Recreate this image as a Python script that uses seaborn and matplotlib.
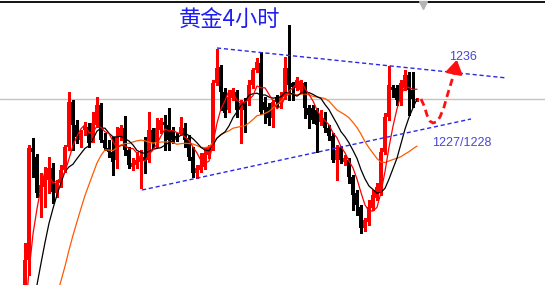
import numpy as np
import pandas as pd
import matplotlib
matplotlib.use("Agg")
import matplotlib.pyplot as plt
import seaborn as sns

# ---- data (gold, 4h candles) ----
opens = [1212.8, 1216.0, 1227.2, 1226.3, 1222.7, 1223.3, 1224.0, 1225.2, 1222.7, 1223.7,
         1225.0, 1227.3, 1231.8, 1229.5, 1228.0, 1229.0, 1229.3, 1228.0, 1229.5, 1231.5,
         1228.0, 1227.2, 1226.8, 1226.0, 1228.3, 1229.2, 1227.0, 1225.3, 1225.5, 1225.8,
         1226.3, 1226.0, 1229.0, 1227.8, 1229.0, 1229.8, 1229.5, 1229.0, 1228.4, 1228.7,
         1229.2, 1228.2, 1226.3, 1224.7, 1225.0, 1225.3, 1226.5, 1227.3, 1233.7, 1235.3,
         1232.8, 1231.0, 1232.2, 1232.8, 1231.0, 1231.7, 1232.0, 1233.5, 1235.0, 1235.7,
         1231.8, 1231.3, 1230.2, 1232.3, 1231.6, 1232.3, 1235.2, 1233.7, 1233.2, 1233.0,
         1233.7, 1231.2, 1231.2, 1231.0, 1229.8, 1230.2, 1229.2, 1228.4, 1226.0, 1227.2,
         1225.8, 1226.0, 1224.3, 1222.7, 1221.3, 1219.2, 1219.8, 1221.2, 1222.2, 1222.7,
         1226.8, 1230.3, 1233.3, 1233.2, 1232.0, 1233.2, 1234.5, 1233.0, 1232.0]
highs = [1217.7, 1227.5, 1228.2, 1226.6, 1224.7, 1225.3, 1226.3, 1225.7, 1224.0, 1225.5,
         1227.5, 1232.8, 1232.0, 1230.0, 1229.0, 1229.8, 1229.7, 1230.8, 1232.3, 1231.7,
         1228.7, 1228.0, 1228.3, 1229.3, 1229.5, 1230.4, 1227.3, 1226.2, 1226.8, 1227.0,
         1228.3, 1230.8, 1229.2, 1230.2, 1230.2, 1230.5, 1231.2, 1229.3, 1228.7, 1230.3,
         1229.7, 1228.5, 1227.3, 1225.5, 1226.7, 1227.3, 1227.5, 1234.0, 1237.1, 1235.5,
         1233.2, 1233.0, 1233.2, 1233.0, 1232.0, 1232.2, 1234.0, 1235.2, 1236.2, 1236.8,
         1232.3, 1231.7, 1232.0, 1232.5, 1232.8, 1236.3, 1239.5, 1233.8, 1234.3, 1234.0,
         1233.8, 1231.5, 1231.5, 1231.2, 1231.0, 1230.8, 1229.5, 1228.7, 1227.5, 1227.4,
         1226.5, 1226.2, 1224.5, 1223.0, 1221.5, 1220.2, 1222.0, 1223.0, 1223.7, 1227.2,
         1230.7, 1235.4, 1233.5, 1233.5, 1234.0, 1235.0, 1234.8, 1234.8, 1232.2]
lows = [1212.5, 1214.5, 1224.3, 1222.3, 1220.3, 1221.3, 1222.7, 1221.7, 1222.3, 1223.3,
        1224.8, 1227.0, 1227.0, 1227.7, 1227.3, 1228.5, 1227.3, 1227.8, 1229.3, 1227.8,
        1227.0, 1226.3, 1224.5, 1225.2, 1228.0, 1226.5, 1225.2, 1225.0, 1225.2, 1223.2,
        1224.7, 1225.8, 1227.2, 1227.3, 1228.7, 1227.0, 1227.0, 1227.7, 1227.9, 1228.5,
        1227.3, 1226.0, 1224.3, 1224.2, 1224.8, 1225.1, 1226.2, 1227.0, 1233.5, 1231.0,
        1230.3, 1230.8, 1232.0, 1230.3, 1227.7, 1228.8, 1231.5, 1233.2, 1234.8, 1230.6,
        1229.7, 1229.5, 1229.3, 1231.3, 1231.2, 1232.1, 1232.0, 1232.0, 1233.0, 1232.8,
        1230.2, 1229.2, 1229.7, 1226.8, 1229.5, 1228.8, 1228.0, 1225.8, 1224.0, 1225.7,
        1225.5, 1223.7, 1221.0, 1220.5, 1218.7, 1218.9, 1219.5, 1221.0, 1222.0, 1222.5,
        1226.6, 1230.0, 1232.3, 1231.5, 1231.5, 1233.0, 1230.5, 1231.3, 1231.9]
closes = [1216.0, 1227.2, 1226.8, 1222.7, 1223.5, 1224.3, 1225.2, 1222.8, 1223.7, 1225.0,
          1227.3, 1231.8, 1229.5, 1228.3, 1228.7, 1229.4, 1227.7, 1229.7, 1231.5, 1228.0,
          1227.2, 1226.8, 1225.8, 1228.3, 1229.2, 1227.0, 1225.5, 1225.7, 1226.0, 1226.2,
          1226.0, 1229.0, 1227.8, 1229.2, 1230.0, 1229.5, 1228.0, 1228.0, 1228.2, 1229.3,
          1228.0, 1226.3, 1224.7, 1225.2, 1225.5, 1226.7, 1227.3, 1233.7, 1235.2, 1232.8,
          1230.7, 1232.3, 1233.0, 1231.0, 1231.7, 1231.0, 1233.5, 1235.0, 1235.8, 1230.8,
          1231.0, 1230.2, 1231.8, 1231.8, 1232.3, 1235.2, 1233.5, 1233.3, 1234.0, 1233.8,
          1231.2, 1230.5, 1230.0, 1229.5, 1230.5, 1229.2, 1228.4, 1226.0, 1227.0, 1226.0,
          1226.2, 1224.3, 1222.5, 1221.5, 1219.2, 1220.0, 1221.3, 1222.5, 1223.3, 1226.8,
          1230.3, 1233.5, 1233.0, 1232.0, 1233.7, 1234.5, 1233.0, 1232.1, 1232.1]
# closes before the first visible candle (below the visible window), used for the averages
prior_closes = [1196.5, 1197.5, 1198.5, 1199.3, 1200.0, 1201.0, 1202.0, 1203.5,
                1206.0, 1208.0, 1210.0, 1213.0]
ma_periods = [5, 10, 20]
ma_colors = ["#ff0000", "#000000", "#ff5a00"]

# annotation lines (candle index, price)
upper_x = [48, 120.5]
upper_y = [1237.2, 1234.2]
lower_x = [29.25, 111.5]
lower_y = [1223.0, 1230.1]
path_x = [99.0, 99.8, 100.5, 101.2, 102.0, 102.8, 103.75, 104.75, 105.75, 106.75, 107.4]
path_y = [1232.1, 1231.4, 1230.5, 1229.9, 1229.7, 1229.8, 1230.3, 1231.3, 1232.7, 1234.0, 1234.9]
arrow_tip = (108.1, 1236.3)
ref_level = 1232.1
title = "黄金4小时"
label_hi = "1236"
label_lo = "1227/1228"

sns.set_theme(style="white")
plt.rcParams['font.family'] = ['Noto Sans CJK SC', 'DejaVu Sans']

fig = plt.figure(figsize=(5.45, 2.85), dpi=100)
ax = fig.add_axes([0, 0, 1, 1])

# reference level and top border
ax.axhline(ref_level, color="#c3c3c3", lw=1.0, zorder=0)
ax.axhline(1241.8, color="black", lw=1.3, zorder=5)
ax.plot([99.4], [1241.45], marker='v', color="#b5b5b5", ms=6, zorder=6)

o = np.array(opens); h = np.array(highs); l = np.array(lows); c = np.array(closes)
x = np.arange(len(c))
cols = np.where(c >= o, "#ff0000", "#000000")
ax.vlines(x, l, h, colors=cols, lw=0.8, zorder=2, antialiased=False)
body = np.maximum(np.abs(c - o), 0.12)
ax.bar(x, body, bottom=np.minimum(o, c), width=0.78, color=cols, linewidth=0,
       zorder=3, antialiased=False)

# moving averages
allc = pd.Series(prior_closes + closes)
xa = np.arange(-len(prior_closes), len(closes))
df = pd.DataFrame({"x": xa})
for p in ma_periods:
    df[f"MA{p}"] = allc.rolling(p).mean().values
for p, col in zip(ma_periods[::-1], ma_colors[::-1]):
    sns.lineplot(data=df, x="x", y=f"MA{p}", color=col, lw=0.9, ax=ax, zorder=4)

# trend lines
blue = "#2a2ae6"
sns.lineplot(x=upper_x, y=upper_y, color=blue, lw=1.0, ax=ax,
             linestyle=(0, (3, 2)), zorder=4)
sns.lineplot(x=lower_x, y=lower_y, color=blue, lw=1.0, ax=ax,
             linestyle=(0, (3, 2)), zorder=4)

# forecast path
ax.plot(path_x, path_y, color="#ff1010", lw=2.0, linestyle=(0, (2.6, 1.6)), zorder=6,
        dash_capstyle='butt')
ax.annotate("", xy=arrow_tip, xytext=(path_x[-1], path_y[-1]),
            arrowprops=dict(arrowstyle="-|>,head_length=0.8,head_width=0.5",
                            color="#ff1010", lw=2.0, mutation_scale=10), zorder=6)

# texts
ax.text(51, 1240.0, title, color="#1e1ef2", fontsize=16, ha="center", va="center",
        family=['Noto Sans CJK SC', 'DejaVu Sans'], zorder=7)
ax.text(106.0, 1236.3, label_hi, color="#4646d8", fontsize=9, ha="left", va="center",
        family=['Liberation Sans'], zorder=7)
ax.text(101.75, 1227.7, label_lo, color="#4646d8", fontsize=9, ha="left", va="center",
        family=['Liberation Sans'], zorder=7)

ax.set_xlim(-6.25, 130)
ax.set_ylim(1213.5, 1242)
ax.axis('off')

fig.savefig("out.png", dpi=100)
